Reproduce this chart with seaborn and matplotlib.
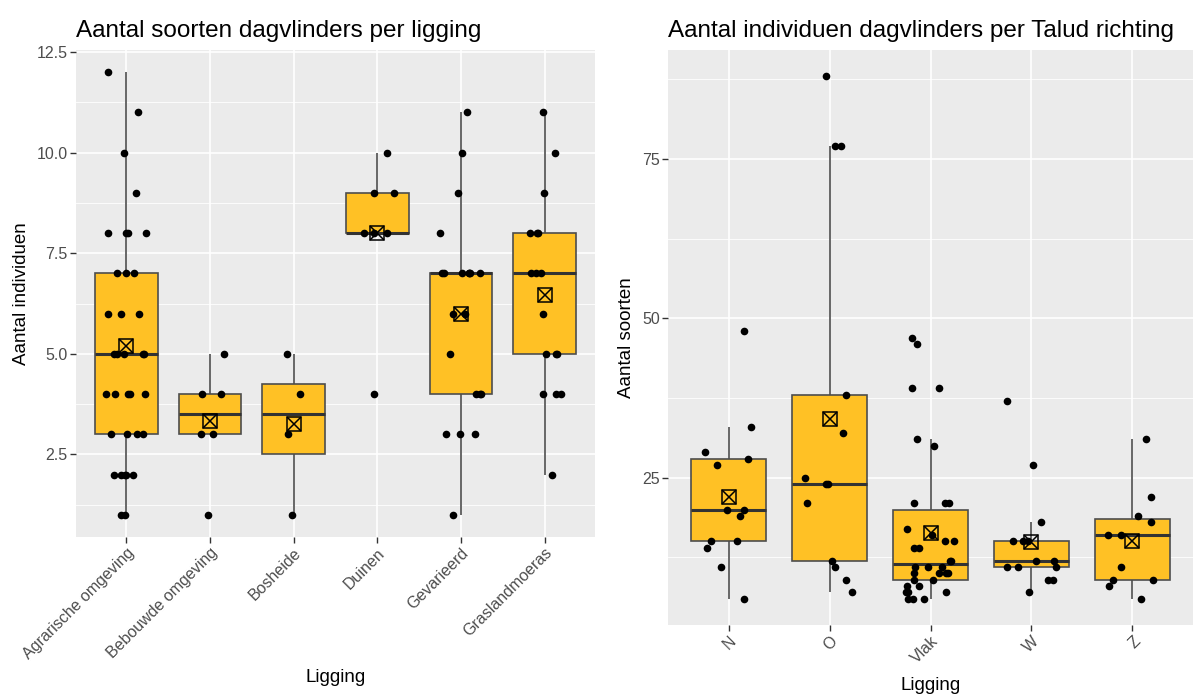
import numpy as np
import pandas as pd
import matplotlib
matplotlib.use("Agg")
import matplotlib.pyplot as plt
import seaborn as sns

# --- Aantal per ligging (linker paneel) ---
ligging = ["Agrarische omgeving", "Bebouwde omgeving", "Bosheide",
           "Duinen", "Gevarieerd", "Graslandmoeras"]
agrarisch = [12, 11, 10, 9, 8, 8, 8, 8, 7, 7, 7, 6, 6, 6, 5, 5, 5, 5, 5,
             4, 4, 4, 4, 4, 3, 3, 3, 3, 2, 2, 2, 2, 2, 1, 1]
bebouwd = [5, 4, 4, 3, 3, 1]
bosheide = [5, 4, 3, 1]
duinen = [10, 9, 9, 8, 8, 8, 4]
gevarieerd = [11, 10, 9, 8, 7, 7, 7, 7, 7, 7, 7, 6, 6, 5, 4, 4, 4, 3, 3, 3, 1]
grasland = [11, 10, 9, 8, 8, 8, 7, 7, 7, 6, 5, 5, 5, 4, 4, 4, 2]

# --- Aantal per taludrichting (rechter paneel) ---
richting = ["N", "O", "Vlak", "W", "Z"]
noord = [48, 33, 29, 28, 27, 20, 20, 19, 15, 15, 14, 11, 6]
oost = [88, 77, 77, 38, 32, 25, 24, 24, 21, 12, 11, 9, 7]
vlak = [47, 46, 39, 39, 31, 30, 21, 21, 21, 17, 16, 15, 15, 14, 14, 12, 12,
        11, 11, 11, 10, 10, 10, 10, 9, 9, 8, 8, 7, 7, 7, 6, 6, 6]
west = [37, 27, 18, 15, 15, 15, 12, 12, 11, 11, 11, 9, 9, 7]
zuid = [31, 22, 19, 18, 16, 16, 11, 9, 9, 8, 6]


def long_table(cats, groups):
    rows = []
    for c, vals in zip(cats, groups):
        rows += [(c, v) for v in vals]
    return pd.DataFrame(rows, columns=["cat", "val"])


df_l = long_table(ligging, [agrarisch, bebouwd, bosheide, duinen, gevarieerd, grasland])
df_r = long_table(richting, [noord, oost, vlak, west, zuid])

BOX_FILL = "#FFC125"
EDGE = "#4D4D4D"
PANEL = "#EBEBEB"

plt.rcParams["font.family"] = ["Liberation Sans", "DejaVu Sans"]

fig = plt.figure(figsize=(11.98, 6.95), dpi=100)
ax_l = fig.add_axes([76 / 1198, 158 / 695, 519 / 1198, 487 / 695])
ax_r = fig.add_axes([668 / 1198, 70 / 695, 525 / 1198, 575 / 695])

np.random.seed(7)


def draw_panel(ax, df, order, ylim, major, minor, title, ylabel, xpad):
    ax.set_facecolor(PANEL)
    ax.set_axisbelow(True)
    sns.boxplot(data=df, x="cat", y="val", order=order, ax=ax,
                color=BOX_FILL, saturation=1, width=0.75, linecolor=EDGE,
                linewidth=1.2, showfliers=False, showcaps=False, whis=1.5,
                medianprops=dict(color="#333333", linewidth=2.2),
                whiskerprops=dict(color=EDGE, linewidth=1.2))
    sns.stripplot(data=df, x="cat", y="val", order=order, ax=ax,
                  color="black", size=5.5, jitter=0.25, zorder=4)
    for mk in ("s", "x"):
        sns.pointplot(data=df, x="cat", y="val", order=order, ax=ax,
                      estimator="mean", errorbar=None, linestyle="none",
                      marker=mk, markersize=10, markeredgewidth=1.1,
                      markerfacecolor="none", markeredgecolor="black",
                      color="black", zorder=5)
    ax.set_ylim(*ylim)
    ax.set_xlim(-0.6, len(order) - 0.4)
    ax.set_yticks(major)
    ax.set_yticks(minor, minor=True)
    ax.grid(True, which="major", color="white", linewidth=1.2)
    ax.grid(True, which="minor", axis="y", color="white", linewidth=0.6)
    ax.tick_params(which="minor", length=0)
    ax.tick_params(which="major", length=4, width=1, color="#333333",
                   labelsize=11.5, labelcolor=EDGE, pad=2)
    for s in ax.spines.values():
        s.set_visible(False)
    ax.set_xticks(range(len(order)))
    ax.set_xticklabels(order, rotation=45, ha="right", rotation_mode="anchor")
    ax.set_xlabel("Ligging", fontsize=13.5, color="black", labelpad=xpad)
    ax.set_ylabel(ylabel, fontsize=13.5, color="black", labelpad=5)
    ax.set_title(title, loc="left", fontsize=17.5, color="black", pad=9)


draw_panel(ax_l, df_l, ligging, (0.45, 12.55),
           [2.5, 5.0, 7.5, 10.0, 12.5], [1.25, 3.75, 6.25, 8.75, 11.25],
           "Aantal soorten dagvlinders per ligging", "Aantal individuen", 5)
draw_panel(ax_r, df_r, richting, (1.9, 92.1),
           [25, 50, 75], [12.5, 37.5, 62.5, 87.5],
           "Aantal individuen dagvlinders per Talud richting", "Aantal soorten", 8)

fig.savefig("out.png", dpi=100, facecolor="white")
